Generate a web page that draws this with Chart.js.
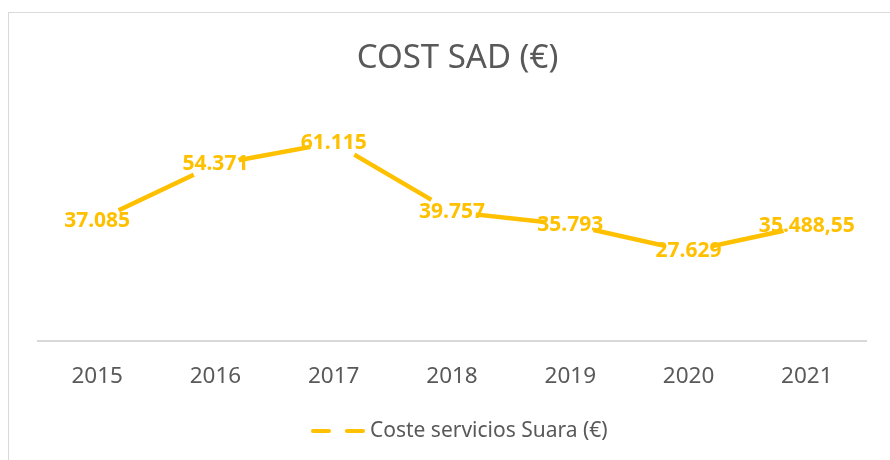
<!DOCTYPE html>
<html>
<head>
<meta charset="utf-8">
<script src="https://cdn.jsdelivr.net/npm/chart.js@4.4.1/dist/chart.umd.min.js"></script>
<style>
  html, body { margin: 0; padding: 0; background: #ffffff; }
  canvas { display: block; }
</style>
</head>
<body>
<canvas id="c" width="890" height="460"></canvas>
<script>
const chartTitle = 'COST SAD (€)';
const seriesName = 'Coste servicios Suara (€)';
const categories = ['2015', '2016', '2017', '2018', '2019', '2020', '2021'];
const costeServicios = [37085, 54371, 61115, 39757, 35793, 27629, 35488.55];
const yMin = 0;
const yMax = 70000;

const GOLD = '#FFC000';
const GRAY = '#595959';
const FONT = "'Noto Sans', 'Open Sans', sans-serif";

function fmtEs(v) {
  const isInt = Math.abs(v % 1) < 1e-9;
  const parts = v.toFixed(isInt ? 0 : 2).split('.');
  const ip = parts[0].replace(/\B(?=(\d{3})+(?!\d))/g, '.');
  return parts[1] ? ip + ',' + parts[1] : ip;
}

// legend icon: line with a gap (white marker) in the middle
const legendIcon = document.createElement('canvas');
legendIcon.width = 63; legendIcon.height = 8;
(function () {
  const g = legendIcon.getContext('2d');
  g.strokeStyle = GOLD; g.lineWidth = 4; g.lineCap = 'round';
  g.beginPath(); g.moveTo(11, 4); g.lineTo(27, 4); g.stroke();
  g.beginPath(); g.moveTo(45, 4); g.lineTo(61, 4); g.stroke();
})();

const framePlugin = {
  id: 'frame',
  beforeDraw(chart) {
    const ctx = chart.ctx;
    ctx.save();
    ctx.fillStyle = '#ffffff';
    ctx.fillRect(0, 0, chart.width, chart.height);
    ctx.strokeStyle = '#d9d9d9';
    ctx.lineWidth = 1;
    ctx.strokeRect(8.5, 12.5, 920, 480);
    ctx.restore();
  }
};

const labelPlugin = {
  id: 'valueLabels',
  afterDatasetsDraw(chart) {
    const ctx = chart.ctx;
    const meta = chart.getDatasetMeta(0);
    ctx.save();
    ctx.font = "bold 21px " + FONT;
    ctx.fillStyle = GOLD;
    ctx.textAlign = 'center';
    ctx.textBaseline = 'middle';
    meta.data.forEach((pt, i) => {
      ctx.fillText(fmtEs(chart.data.datasets[0].data[i]), pt.x, pt.y);
    });
    ctx.restore();
  }
};

new Chart(document.getElementById('c'), {
  type: 'line',
  data: {
    labels: categories,
    datasets: [{
      label: seriesName,
      data: costeServicios,
      borderColor: GOLD,
      backgroundColor: '#ffffff',
      borderWidth: 4.5,
      borderCapStyle: 'round',
      tension: 0,
      fill: false,
      pointRadius: 24,
      pointHoverRadius: 24,
      pointBackgroundColor: '#ffffff',
      pointBorderWidth: 0,
      pointBorderColor: '#ffffff'
    }]
  },
  options: {
    responsive: false,
    animation: false,
    devicePixelRatio: 1,
    layout: { padding: { top: 12, left: 38, right: 13, bottom: 8.5 } },
    events: [],
    plugins: {
      tooltip: { enabled: false },
      title: {
        display: true,
        text: chartTitle,
        color: GRAY,
        font: { family: FONT, size: 33, weight: 'normal', lineHeight: 1.2 },
        padding: { top: 26.7, bottom: 35.4 }
      },
      legend: {
        display: true,
        position: 'bottom',
        labels: {
          usePointStyle: true,
          pointStyleWidth: 52,
          color: GRAY,
          padding: 10,
          font: { family: FONT, size: 21, lineHeight: 1.2 },
          generateLabels(chart) {
            const items = Chart.defaults.plugins.legend.labels.generateLabels(chart);
            items.forEach(it => { it.pointStyle = legendIcon; });
            return items;
          }
        }
      }
    },
    scales: {
      x: {
        type: 'category',
        offset: true,
        grid: { display: false, drawTicks: false },
        border: { display: true, color: '#d9d9d9', width: 2 },
        ticks: {
          color: GRAY,
          padding: 22,
          font: { family: FONT, size: 22.5, lineHeight: 1.2 },
          maxRotation: 0
        },
        afterFit(scale) { scale.height = 69.5; }
      },
      y: {
        display: false,
        min: yMin,
        max: yMax
      }
    }
  },
  plugins: [framePlugin, labelPlugin]
});
</script>
</body>
</html>
